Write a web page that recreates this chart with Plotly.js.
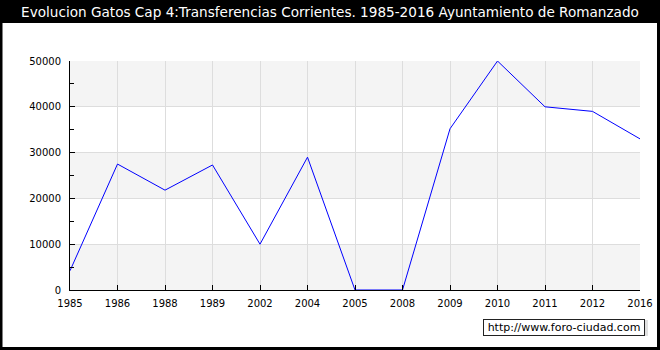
<!DOCTYPE html>
<html>
<head>
<meta charset="utf-8">
<script src="https://cdn.plot.ly/plotly-3.0.1.min.js"></script>
<style>
html,body{margin:0;padding:0;background:#fff;}
#chart{width:660px;height:350px;}
</style>
</head>
<body>
<div id="chart"></div>
<script>
var years = ["1985","1986","1988","1989","2002","2004","2005","2008","2009","2010","2011","2012","2016"];
var values = [4200, 27500, 21800, 27300, 10000, 29000, 0, 0, 35200, 50000, 40000, 39000, 33000];
var yTicks = [0, 10000, 20000, 30000, 40000, 50000];
var titleText = "Evolucion Gatos Cap 4:Transferencias Corrientes. 1985-2016 Ayuntamiento de Romanzado";
var watermark = "http://www.foro-ciudad.com";

// pixel helpers for paper coordinates (plot area 70..640 x, 61..290 y)
function px(x){ return (x - 70) / 570; }
function py(y){ return (290 - y) / 229; }

var shapes = [
  {type:'rect', xref:'paper', yref:'paper', x0:px(0), x1:px(660), y0:py(23), y1:py(0), fillcolor:'#000', line:{width:0}, layer:'below'},
  {type:'rect', xref:'paper', yref:'paper', x0:px(1), x1:px(658.5), y0:py(348.5), y1:py(0), fillcolor:'rgba(0,0,0,0)', line:{color:'#000', width:3}, layer:'above'},
  {type:'rect', xref:'paper', yref:'paper', x0:px(485), x1:px(648), y0:py(336), y1:py(320), fillcolor:'#e0e0e0', line:{width:0}, layer:'below'}
];
for (var i = 0; i < yTicks.length - 1; i += 2) {
  shapes.push({type:'rect', xref:'paper', yref:'y', x0:0, x1:1, y0:yTicks[i], y1:yTicks[i+1], fillcolor:'#f4f4f4', line:{width:0}, layer:'below'});
}
shapes.push({type:'rect', xref:'paper', yref:'y', x0:0, x1:1, y0:40000, y1:50000, fillcolor:'#f4f4f4', line:{width:0}, layer:'below'});

var trace = {
  x: years, y: values, type:'scatter', mode:'lines',
  line:{color:'#0000ff', width:1}, hoverinfo:'none'
};

var layout = {
  width:660, height:350,
  margin:{l:70, r:20, t:61, b:60},
  paper_bgcolor:'#fff', plot_bgcolor:'rgba(0,0,0,0)',
  font:{family:'DejaVu Sans', size:10, color:'#000'},
  showlegend:false,
  title:{text:titleText, font:{family:'DejaVu Sans', size:13.6, color:'#fff'}, x:0.5, xref:'container', y:1-12/350, yref:'container', xanchor:'center', yanchor:'middle'},
  xaxis:{type:'category', range:[0, years.length-1], showgrid:true, gridcolor:'#dddddd', gridwidth:1,
         showline:true, linecolor:'#000', linewidth:1, ticks:'inside', ticklen:5, tickcolor:'#000',
         ticklabelstandoff:4, layer:'above traces',
         tickfont:{family:'DejaVu Sans', size:10, color:'#000'}, fixedrange:true, zeroline:false},
  yaxis:{range:[0,50000], tickvals:yTicks, tickformat:'d', showgrid:true, gridcolor:'#dddddd', gridwidth:1,
         showline:true, linecolor:'#000', linewidth:1, ticks:'inside', ticklen:5, tickcolor:'#000',
         minor:{dtick:5000, ticks:'inside', ticklen:4, tickcolor:'#000', showgrid:false},
         ticklabelstandoff:6, layer:'above traces', tickfont:{family:'DejaVu Sans', size:10, color:'#000'}, zeroline:false, fixedrange:true},
  shapes: shapes,
  annotations:[{text:watermark, xref:'paper', yref:'paper', x:px(564), y:py(327), xanchor:'center', yanchor:'middle',
    showarrow:false, font:{family:'DejaVu Sans', size:11, color:'#000'}, bgcolor:'#fff', bordercolor:'#222', borderwidth:1,
    borderpad:1, width:158, height:13}]
};

Plotly.newPlot('chart', [trace], layout, {displayModeBar:false, staticPlot:true});
</script>
</body>
</html>
